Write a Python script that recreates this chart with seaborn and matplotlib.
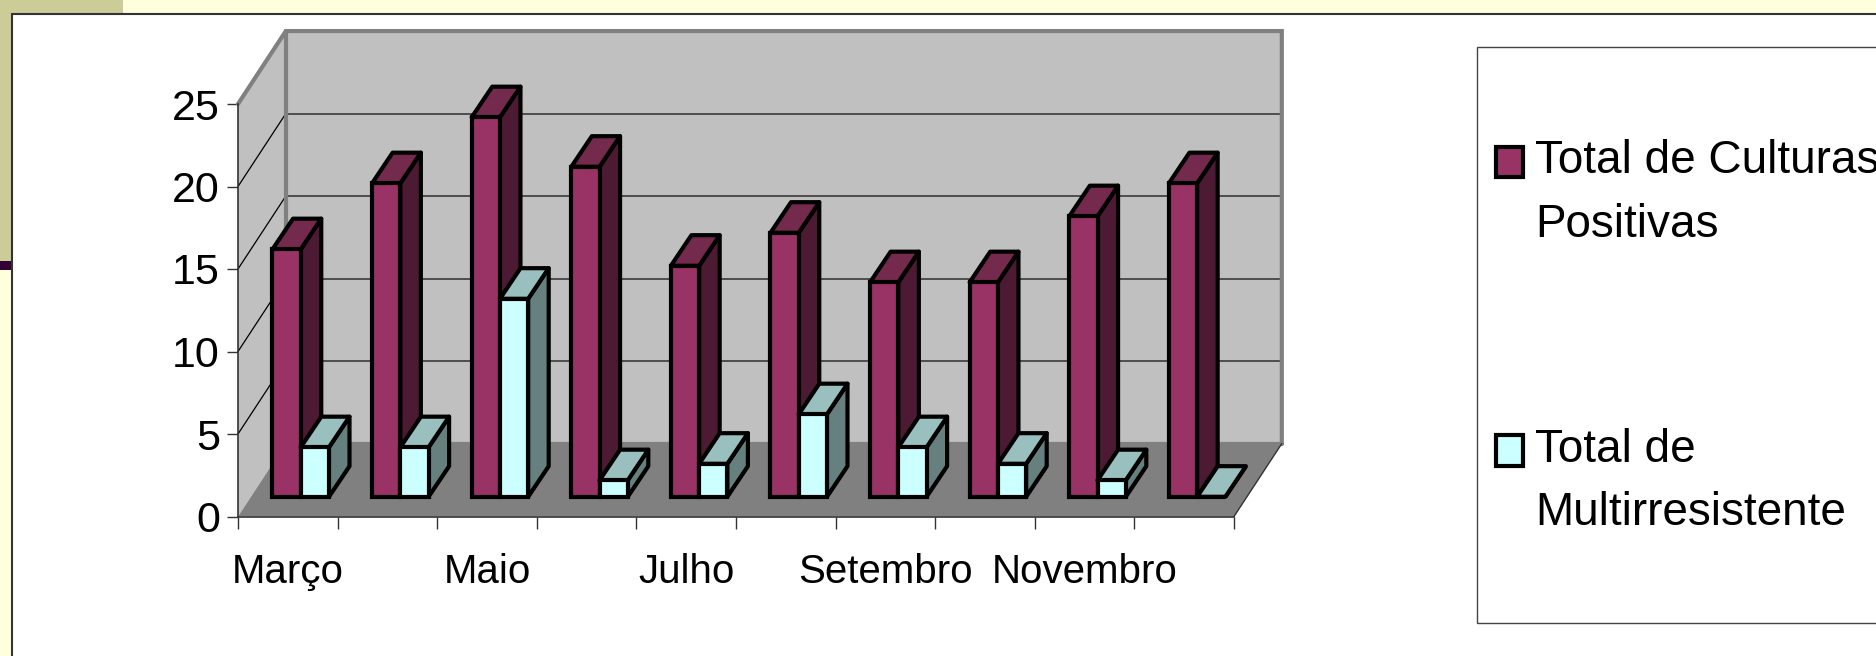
import matplotlib
matplotlib.use("Agg")
import matplotlib.pyplot as plt
import pandas as pd
import seaborn as sns

meses = ["Março", "Abril", "Maio", "Junho", "Julho", "Agosto",
         "Setembro", "Outubro", "Novembro", "Dezembro"]
rotulos_x = ["Março", "", "Maio", "", "Julho", "", "Setembro", "", "Novembro", ""]
culturas = [15, 19, 23, 20, 14, 16, 13, 13, 17, 19]
multirresistente = [3, 3, 12, 1, 2, 5, 3, 2, 1, 0]
nome_culturas = "Total de Culturas\nPositivas"
nome_multi = "Total de\nMultirresistente"
ticks_y = [0, 5, 10, 15, 20, 25]

W, H = 1876, 656
# falso 3D: profundidade total em unidades dos eixos
DX, DY = 0.48, 4.42
PLANO = 0.27   # onde fica a frente das barras
FUNDO_X, FUNDO_Y = 0.43, 0.42   # profundidade das barras

mydf = pd.DataFrame({
    "Mes": meses * 2,
    "Total": culturas + multirresistente,
    "Serie": [nome_culturas] * 10 + [nome_multi] * 10,
})

sns.set_theme(style="white")
plt.rcParams["font.family"] = ["Liberation Sans", "DejaVu Sans"]

fig = plt.figure(figsize=(W / 100, H / 100), dpi=100, facecolor="#FFFFDD")

# fundo do slide, em pixels
bg = fig.add_axes([0, 0, 1, 1], zorder=-1)
bg.set_xlim(0, W)
bg.set_ylim(H, 0)
bg.axis("off")
bg.fill([0, 123, 123, 0], [0, 0, 261, 261], color="#CCCC99", lw=0)
bg.fill([0, 13, 13, 0], [261, 261, 270, 270], color="#330033", lw=0)
bg.fill([12, W + 5, W + 5, 12], [14, 14, H + 5, H + 5], facecolor="white",
        edgecolor="#333333", lw=1.5)
bg.fill([1477, W + 5, W + 5, 1477], [47, 47, 623, 623], facecolor="white",
        edgecolor="#444444", lw=1)

ax = fig.add_axes([238 / W, (H - 516.5) / H, 996 / W, 412.5 / H])
ax.patch.set_alpha(0)

paleta = {nome_culturas: "#993366", nome_multi: "#CCFFFF"}
lados = {nome_culturas: ("#4D1A33", "#732A4D"), nome_multi: ("#668080", "#99BFBF")}

sns.barplot(data=mydf, x="Mes", y="Total", hue="Serie", palette=paleta, width=0.567,
            gap=0, saturation=1, edgecolor="black", linewidth=3, ax=ax, zorder=10)
handles, labels = ax.get_legend_handles_labels()
ax.get_legend().remove()

x0, x1 = -0.5, 9.5
topo = ticks_y[-1]

# paredes e chao
ax.fill([x0, x0 + DX, x0 + DX, x0], [0, DY, topo + DY, topo], color="#C0C0C0", lw=0, zorder=1, clip_on=False)
ax.fill([x0 + DX, x1 + DX, x1 + DX, x0 + DX], [DY, DY, topo + DY, topo + DY], color="#C0C0C0", lw=0, zorder=1, clip_on=False)
ax.fill([x0, x1, x1 + DX, x0 + DX], [0, 0, DY, DY], color="#808080", lw=0, zorder=2, clip_on=False)
ax.plot([x0 + DX, x1 + DX], [DY, DY], color="#808080", lw=3, zorder=2, clip_on=False)

for v in ticks_y[1:-1]:
    ax.plot([x0 + DX, x1 + DX], [v + DY, v + DY], color="#3A3A3A", lw=1.2, zorder=3, clip_on=False)
    ax.plot([x0, x0 + DX], [v, v + DY], color="black", lw=0.9, zorder=3, clip_on=False)

ax.plot([x0, x0 + DX, x1 + DX, x1 + DX], [topo, topo + DY, topo + DY, DY], color="#808080", lw=3,
        zorder=4, clip_on=False, solid_joinstyle="miter")
ax.plot([x0 + DX, x0 + DX], [DY, topo + DY], color="#808080", lw=3, zorder=4, clip_on=False)
ax.plot([x1, x1 + DX], [0, DY], color="#333333", lw=1, zorder=4, clip_on=False)

# faces laterais e de cima das barras, a partir das barras do seaborn
for j, (cont, nome) in enumerate(zip(ax.containers, [nome_culturas, nome_multi])):
    cor_lado, cor_topo = lados[nome]
    for i, p in enumerate(cont):
        base = 10 + i * 6 + j * 3
        p.set_x(p.get_x() + PLANO * DX)
        p.set_y(PLANO * DY)
        p.set_zorder(base + 1)
        p.set_clip_on(False)
        esq, dir_ = p.get_x(), p.get_x() + p.get_width()
        baixo, alto = p.get_y(), p.get_y() + p.get_height()
        dx, dy = FUNDO_X * DX, FUNDO_Y * DY
        estilo = dict(edgecolor="black", lw=3, clip_on=False, joinstyle="round", zorder=base)
        ax.fill([dir_, dir_ + dx, dir_ + dx, dir_], [baixo, baixo + dy, alto + dy, alto],
                facecolor=cor_lado, **estilo)
        ax.fill([esq, dir_, dir_ + dx, esq + dx], [alto, alto, alto + dy, alto + dy],
                facecolor=cor_topo, **estilo)

ax.set_xlim(x0, x1)
ax.set_ylim(0, topo)
ax.set_xlabel("")
ax.set_ylabel("")
ax.set_yticks(ticks_y)
ax.set_xticks(range(len(meses)), labels=rotulos_x)
ax.set_xticks([x0 + k for k in range(len(meses) + 1)], minor=True)
ax.tick_params(axis="x", which="major", length=0, pad=26, labelsize=29, colors="black")
ax.tick_params(axis="x", which="minor", length=8.5, width=1, color="#333333", bottom=True)
ax.tick_params(axis="y", length=8, width=1, pad=5, labelsize=31, color="#333333", labelcolor="black", left=True)

sns.despine(ax=ax, top=True, right=True)
for lado in ["left", "bottom"]:
    ax.spines[lado].set_color("#333333")
    ax.spines[lado].set_linewidth(1.2)
    ax.spines[lado].set_zorder(5)

leg = fig.legend(handles, labels, loc="upper left", bbox_to_anchor=(1496 / W, 1 - 139 / H), frameon=False,
                 fontsize=33, labelspacing=3.95, handlelength=0.58, handleheight=0.64,
                 handletextpad=0.27, borderpad=0, borderaxespad=0, labelcolor="black")
for t in leg.get_texts():
    t.set_linespacing(1.58)
# quadradinho na altura da primeira linha do texto
for h in leg.legend_handles:
    h.set_y(h.get_y() + 23)

fig.savefig("out.png", dpi=100, facecolor=fig.get_facecolor())
